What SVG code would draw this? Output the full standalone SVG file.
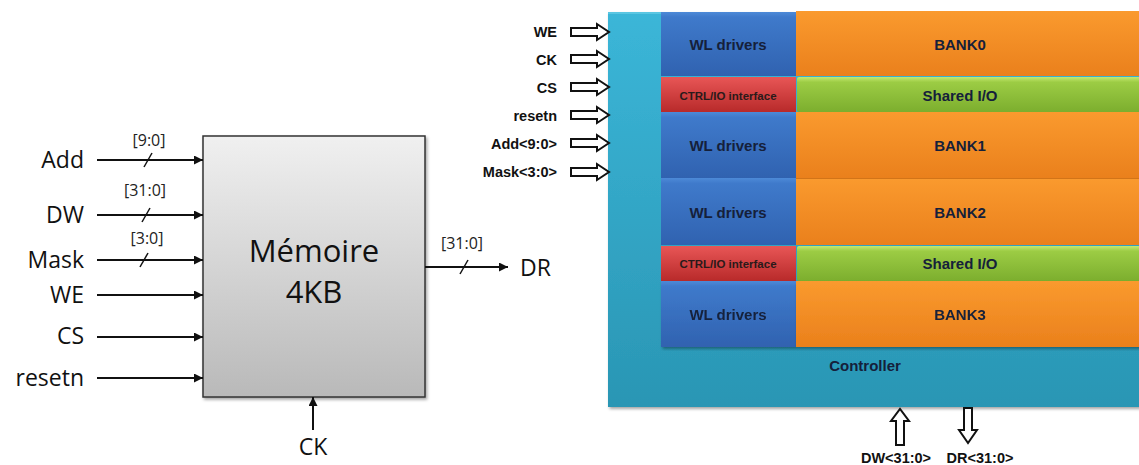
<svg xmlns="http://www.w3.org/2000/svg" width="1139" height="465" viewBox="0 0 1139 465">
<defs>
<linearGradient id="gMem" x1="0" y1="0" x2="0" y2="1"><stop offset="0" stop-color="#f0f0f0"/><stop offset="1" stop-color="#b9b9b9"/></linearGradient>
<linearGradient id="gCyan" x1="0" y1="0" x2="0" y2="1"><stop offset="0" stop-color="#3bb6d8"/><stop offset="1" stop-color="#2a96b4"/></linearGradient>
<linearGradient id="gBlue" x1="0" y1="0" x2="0" y2="1"><stop offset="0" stop-color="#4d8ad8"/><stop offset="0.08" stop-color="#3f7acb"/><stop offset="1" stop-color="#3062b0"/></linearGradient>
<linearGradient id="gRed" x1="0" y1="0" x2="0" y2="1"><stop offset="0" stop-color="#e85656"/><stop offset="1" stop-color="#b82a2a"/></linearGradient>
<linearGradient id="gGreen" x1="0" y1="0" x2="0" y2="1"><stop offset="0" stop-color="#c4e870"/><stop offset="0.15" stop-color="#9ccc44"/><stop offset="1" stop-color="#7cae2e"/></linearGradient>
<linearGradient id="gOrange" x1="0" y1="0" x2="0" y2="1"><stop offset="0" stop-color="#fa9a2e"/><stop offset="1" stop-color="#ea801c"/></linearGradient>
<marker id="ah" viewBox="0 0 10 10" refX="10" refY="5" markerWidth="9" markerHeight="9" markerUnits="userSpaceOnUse" orient="auto"><path d="M0,0 L10,5 L0,10 Z" fill="#111"/></marker>
<filter id="sh" x="-5%" y="-5%" width="110%" height="110%"><feDropShadow dx="1.5" dy="2" stdDeviation="1.5" flood-color="#000" flood-opacity="0.35"/></filter>
</defs>
<style>
.lbl{font-family:"Open Sans","Noto Sans",sans-serif;font-size:23px;fill:#111}
.bus{font-family:"Open Sans","Noto Sans",sans-serif;font-size:16px;fill:#222}
.big{font-family:"Open Sans","Noto Sans",sans-serif;font-size:31px;fill:#111}
.wire{stroke:#111;stroke-width:2;fill:none}
.sl{stroke:#111;stroke-width:1.5}
.b{font-family:"Liberation Sans",Arial,sans-serif;font-weight:bold;font-size:15px;fill:#15203a}
.bs{font-family:"Liberation Sans",Arial,sans-serif;font-weight:bold;font-size:11.5px;fill:#2a1a1a}
.pl{font-family:"Liberation Sans",Arial,sans-serif;font-weight:bold;font-size:14.5px;fill:#111}
.hol{fill:#fff;stroke:#111;stroke-width:2;stroke-linejoin:miter}
</style>

<!-- Left block diagram -->
<g id="memoire">
<rect x="203" y="136" width="222" height="261" fill="url(#gMem)" stroke="#333" stroke-width="1.5" filter="url(#sh)"/>
<text class="big" x="314" y="262" text-anchor="middle">Mémoire</text>
<text class="big" x="314" y="303" text-anchor="middle">4KB</text>
</g>

<g id="labels-left">
<text class="lbl" x="84" y="168" text-anchor="end">Add</text>
<text class="lbl" x="84" y="223" text-anchor="end">DW</text>
<text class="lbl" x="84" y="268" text-anchor="end">Mask</text>
<text class="lbl" x="84" y="303" text-anchor="end">WE</text>
<text class="lbl" x="84" y="344" text-anchor="end">CS</text>
<text class="lbl" x="84" y="386" text-anchor="end">resetn</text>
<text class="bus" x="149" y="146" text-anchor="middle">[9:0]</text>
<text class="bus" x="145" y="196" text-anchor="middle">[31:0]</text>
<text class="bus" x="147" y="244" text-anchor="middle">[3:0]</text>
<text class="bus" x="462" y="249" text-anchor="middle">[31:0]</text>
<text class="lbl" x="520" y="276">DR</text>
<text class="lbl" x="313" y="455" text-anchor="middle">CK</text>
</g>

<g id="connectors">
<line class="wire" x1="97" y1="160" x2="203" y2="160" marker-end="url(#ah)"/>
<line class="sl" x1="144" y1="167" x2="152" y2="153"/>
<line class="wire" x1="97" y1="215" x2="203" y2="215" marker-end="url(#ah)"/>
<line class="sl" x1="142" y1="222" x2="150" y2="208"/>
<line class="wire" x1="97" y1="260" x2="203" y2="260" marker-end="url(#ah)"/>
<line class="sl" x1="140" y1="267" x2="148" y2="253"/>
<line class="wire" x1="97" y1="295" x2="203" y2="295" marker-end="url(#ah)"/>
<line class="wire" x1="97" y1="337" x2="203" y2="337" marker-end="url(#ah)"/>
<line class="wire" x1="97" y1="378" x2="203" y2="378" marker-end="url(#ah)"/>
<line class="wire" x1="425" y1="267" x2="508" y2="267" marker-end="url(#ah)"/>
<line class="sl" x1="460" y1="274" x2="468" y2="260"/>
<line class="wire" x1="313" y1="430" x2="313" y2="397" marker-end="url(#ah)"/>
</g>

<!-- Right architecture diagram -->
<g id="controller">
<rect x="608" y="12" width="540" height="395" fill="url(#gCyan)" filter="url(#sh)"/>
<rect x="608" y="12" width="540" height="2" fill="#6fd0ea" opacity="0.6"/>
<text class="b" x="865" y="371" text-anchor="middle">Controller</text>
</g>

<g id="wl0"><rect x="661" y="12" width="135" height="64" fill="url(#gBlue)"/><text class="b" x="728" y="50" text-anchor="middle">WL drivers</text></g>
<g id="ctrl0"><rect x="661" y="77" width="135" height="35" fill="url(#gRed)"/><text class="bs" x="728" y="100" text-anchor="middle">CTRL/IO interface</text></g>
<g id="wl1"><rect x="661" y="112" width="135" height="66" fill="url(#gBlue)"/><text class="b" x="728" y="151" text-anchor="middle">WL drivers</text></g>
<g id="wl2"><rect x="661" y="178" width="135" height="67" fill="url(#gBlue)"/><text class="b" x="728" y="218" text-anchor="middle">WL drivers</text></g>
<g id="ctrl1"><rect x="661" y="246" width="135" height="35" fill="url(#gRed)"/><text class="bs" x="728" y="268" text-anchor="middle">CTRL/IO interface</text></g>
<g id="wl3" filter="url(#sh)"><rect x="661" y="281" width="135" height="66" fill="url(#gBlue)"/><text class="b" x="728" y="320" text-anchor="middle">WL drivers</text></g>

<g id="bank0"><rect x="796" y="11" width="350" height="65" fill="url(#gOrange)"/><text class="b" x="960" y="50" text-anchor="middle">BANK0</text></g>
<g id="shared0"><rect x="797" y="77" width="350" height="35" rx="2" fill="url(#gGreen)"/><text class="b" x="960" y="101" text-anchor="middle">Shared I/O</text></g>
<g id="bank1"><rect x="796" y="112" width="350" height="66" fill="url(#gOrange)"/><text class="b" x="960" y="151" text-anchor="middle">BANK1</text></g>
<g id="bank2"><rect x="796" y="178" width="350" height="67" fill="url(#gOrange)"/><line x1="796" y1="178.5" x2="1139" y2="178.5" stroke="#d27418" stroke-width="1"/><text class="b" x="960" y="218" text-anchor="middle">BANK2</text></g>
<g id="shared1"><rect x="797" y="246" width="350" height="35" rx="2" fill="url(#gGreen)"/><text class="b" x="960" y="269" text-anchor="middle">Shared I/O</text></g>
<g id="bank3" filter="url(#sh)"><rect x="796" y="281" width="350" height="66" fill="url(#gOrange)"/><text class="b" x="960" y="320" text-anchor="middle">BANK3</text></g>

<g id="labels-right">
<text class="pl" x="557" y="37" text-anchor="end">WE</text>
<text class="pl" x="557" y="65" text-anchor="end">CK</text>
<text class="pl" x="557" y="93" text-anchor="end">CS</text>
<text class="pl" x="557" y="121" text-anchor="end">resetn</text>
<text class="pl" x="557" y="149" text-anchor="end">Add&lt;9:0&gt;</text>
<text class="pl" x="557" y="177" text-anchor="end">Mask&lt;3:0&gt;</text>
<text class="pl" x="896" y="463" text-anchor="middle">DW&lt;31:0&gt;</text>
<text class="pl" x="980" y="463" text-anchor="middle">DR&lt;31:0&gt;</text>
</g>

<g id="bus-arrows">
<path class="hol" d="M571,28 H597 V24 L609,32 L597,40 V36 H571 Z"/>
<path class="hol" d="M571,55 H597 V51 L609,59 L597,67 V63 H571 Z"/>
<path class="hol" d="M571,83 H597 V79 L609,87 L597,95 V91 H571 Z"/>
<path class="hol" d="M571,111 H597 V107 L609,115 L597,123 V119 H571 Z"/>
<path class="hol" d="M571,139 H597 V135 L609,143 L597,151 V147 H571 Z"/>
<path class="hol" d="M571,168 H597 V164 L609,172 L597,180 V176 H571 Z"/>
<path class="hol" d="M896,445 V421 H891 L900,409 L909,421 H904 V445 Z"/>
<path class="hol" d="M964,408 V430 H959 L968,443 L977,430 H972 V408 Z"/>
</g>
</svg>
